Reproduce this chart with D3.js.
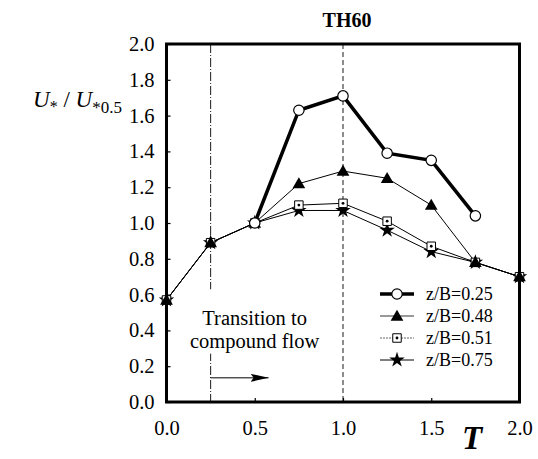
<!DOCTYPE html>
<html>
<head>
<meta charset="utf-8">
<script src="https://cdn.jsdelivr.net/npm/d3@7"></script>
<style>
  body { margin: 0; background: #fff; }
  svg { display: block; }
  svg text { font-family: "Liberation Serif", "DejaVu Serif", serif; }
</style>
</head>
<body>
<svg id="chart" width="538" height="459"></svg>
<script>
// ---- data ----
const title = "TH60";
const xTicks = [0.0, 0.5, 1.0, 1.5, 2.0];
const yTicks = [0.0, 0.2, 0.4, 0.6, 0.8, 1.0, 1.2, 1.4, 1.6, 1.8, 2.0];
const seriesNames = ["z/B=0.25", "z/B=0.48", "z/B=0.51", "z/B=0.75"];
const tAll = [0, 0.25, 0.5, 0.75, 1.0, 1.25, 1.5, 1.75, 2.0];
const t025 = [0.5, 0.75, 1.0, 1.25, 1.5, 1.75];
const v025 = [1.00, 1.63, 1.71, 1.39, 1.35, 1.04];
const v048 = [0.57, 0.89, 1.00, 1.22, 1.29, 1.25, 1.10, 0.78, 0.70];
const v051 = [0.57, 0.89, 1.00, 1.10, 1.11, 1.01, 0.87, 0.78, 0.70];
const v075 = [0.57, 0.89, 1.00, 1.07, 1.07, 0.96, 0.84, 0.78, 0.70];
const transitionT = 0.25;
const peakT = 1.0;
const noteLines = ["Transition to", "compound flow"];

// ---- layout ----
const FONT = "Liberation Serif, DejaVu Serif, serif";
const svg = d3.select("#chart");
const L = 166.5, R = 519.5, T = 44, B = 402;
const x = d3.scaleLinear().domain([0, 2]).range([L, R]);
const y = d3.scaleLinear().domain([0, 2]).range([B, T]);

const series = [
  { name: seriesNames[0], t: t025, v: v025, sym: d3.symbolCircle, size: 85, fill: "#fff", sw: 3.5, lw: 1.2, legendStroke: "#000", legendW: 3.5, dash: null },
  { name: seriesNames[1], t: tAll, v: v048, sym: d3.symbolTriangle, size: 70, fill: "#000", sw: 1, lw: 0, legendStroke: "#999", legendW: 2, dash: null },
  { name: seriesNames[2], t: tAll, v: v051, sym: d3.symbolSquare, size: 72, fill: "#fff", sw: 1, lw: 1, legendStroke: "#666", legendW: 1, dash: "2,1", dot: true },
  { name: seriesNames[3], t: tAll, v: v075, sym: d3.symbolStar, size: 75, fill: "#000", sw: 1, lw: 0, legendStroke: "#000", legendW: 1, dash: null }
];

// reference vertical lines
svg.append("line").attr("x1", x(transitionT)).attr("x2", x(transitionT)).attr("y1", T).attr("y2", B)
  .attr("stroke", "#000").attr("stroke-width", 0.9).attr("stroke-dasharray", "9,2,1,2");
svg.append("line").attr("x1", x(peakT)).attr("x2", x(peakT)).attr("y1", T).attr("y2", B)
  .attr("stroke", "#000").attr("stroke-width", 0.9).attr("stroke-dasharray", "5,3");

// note with white background
const noteG = svg.append("g");
const noteCx = x(transitionT) + 44;
noteG.append("rect").attr("x", noteCx - 72).attr("y", y(0.63)).attr("width", 144).attr("height", y(0.27) - y(0.63)).attr("fill", "#fff");
noteLines.forEach((s, i) => {
  noteG.append("text").attr("x", noteCx).attr("y", 325 + i * 23).attr("text-anchor", "middle")
    .attr("font-family", FONT).attr("font-size", 20.5).text(s);
});
// arrow
const ay = y(0.135);
svg.append("defs").append("marker").attr("id", "ah").attr("viewBox", "0 0 18 8").attr("refX", 18).attr("refY", 4)
  .attr("markerWidth", 18).attr("markerHeight", 8).attr("markerUnits", "userSpaceOnUse").attr("orient", "auto")
  .append("path").attr("d", "M0,0 L18,4 L0,8 L3,4 Z").attr("fill", "#000");
svg.append("line").attr("x1", x(transitionT)).attr("x2", x(transitionT) + 58).attr("y1", ay).attr("y2", ay)
  .attr("stroke", "#000").attr("stroke-width", 1).attr("marker-end", "url(#ah)");

// series lines
const line = d3.line().x(d => x(d[0])).y(d => y(d[1]));
[3, 2, 1, 0].forEach(i => {
  const s = series[i];
  const pts = s.t.map((t, j) => [t, s.v[j]]);
  svg.append("path").attr("d", line(pts)).attr("fill", "none").attr("stroke", "#000").attr("stroke-width", s.sw);
});
// markers
[3, 2, 1, 0].forEach(i => {
  const s = series[i];
  const g = svg.append("g");
  s.t.forEach((t, j) => {
    g.append("path").attr("d", d3.symbol(s.sym, s.size)())
      .attr("transform", `translate(${x(t)},${y(s.v[j]) + (s.sym === d3.symbolTriangle ? 1 : 0)})`)
      .attr("fill", s.fill).attr("stroke", "#000").attr("stroke-width", s.lw);
    if (s.dot) g.append("circle").attr("cx", x(t)).attr("cy", y(s.v[j])).attr("r", 1.4).attr("fill", "#000");
  });
});

// frame
svg.append("rect").attr("x", L).attr("y", T).attr("width", R - L).attr("height", B - T)
  .attr("fill", "none").attr("stroke", "#000").attr("stroke-width", 3);

// axes
const yAxis = d3.axisLeft(y).tickValues(yTicks).tickFormat(d3.format(".1f")).tickSizeInner(-4).tickSizeOuter(0).tickPadding(12);
const yg = svg.append("g").attr("transform", `translate(${L},0)`).call(yAxis).attr("font-family", FONT);
yg.select(".domain").remove();
yg.selectAll("line").attr("stroke-width", 1.2);
yg.selectAll("text").attr("font-size", 20.5).attr("font-family", FONT).attr("fill", "#000");

const xAxis = d3.axisBottom(x).tickValues(xTicks).tickFormat(d3.format(".1f")).tickSizeInner(-4).tickSizeOuter(0).tickPadding(18);
const xg = svg.append("g").attr("transform", `translate(0,${B})`).call(xAxis).attr("font-family", FONT);
xg.select(".domain").remove();
xg.selectAll("line").attr("stroke-width", 1.2);
xg.selectAll("text").attr("font-size", 20.5).attr("font-family", FONT).attr("fill", "#000");

// title
svg.append("text").attr("x", 347).attr("y", 27).attr("text-anchor", "middle").attr("font-size", 20)
  .attr("font-family", FONT).attr("font-weight", "bold").text(title);

// y label
const yl = svg.append("text").attr("x", 33).attr("y", 107).attr("font-size", 23).attr("font-family", FONT);
yl.append("tspan").attr("font-style", "italic").text("U");
yl.append("tspan").attr("font-size", 16).attr("dy", 5).text("*");
yl.append("tspan").attr("dy", -5).text(" / ");
yl.append("tspan").attr("font-style", "italic").text("U");
yl.append("tspan").attr("font-size", 17).attr("dy", 6).text("*0.5");

// x label
svg.append("text").attr("x", 462).attr("y", 449).attr("font-size", 33).attr("font-style", "italic")
  .attr("font-weight", "bold").attr("font-family", FONT).text("T");

// legend
const ly0 = 294, ldy = 22;
series.forEach((s, i) => {
  const ly = ly0 + i * ldy;
  const g = svg.append("g");
  g.append("line").attr("x1", 380).attr("x2", 414).attr("y1", ly).attr("y2", ly)
    .attr("stroke", s.legendStroke).attr("stroke-width", s.legendW).attr("stroke-dasharray", s.dash);
  g.append("path").attr("d", d3.symbol(s.sym, s.size)())
    .attr("transform", `translate(397,${ly + (s.sym === d3.symbolTriangle ? 1 : 0)})`)
    .attr("fill", s.fill).attr("stroke", "#000").attr("stroke-width", s.lw);
  if (s.dot) g.append("circle").attr("cx", 397).attr("cy", ly).attr("r", 1.4).attr("fill", "#000");
  g.append("text").attr("x", 426).attr("y", ly + 6).attr("font-size", 18).attr("font-family", FONT).text(s.name);
});
</script>
</body>
</html>
